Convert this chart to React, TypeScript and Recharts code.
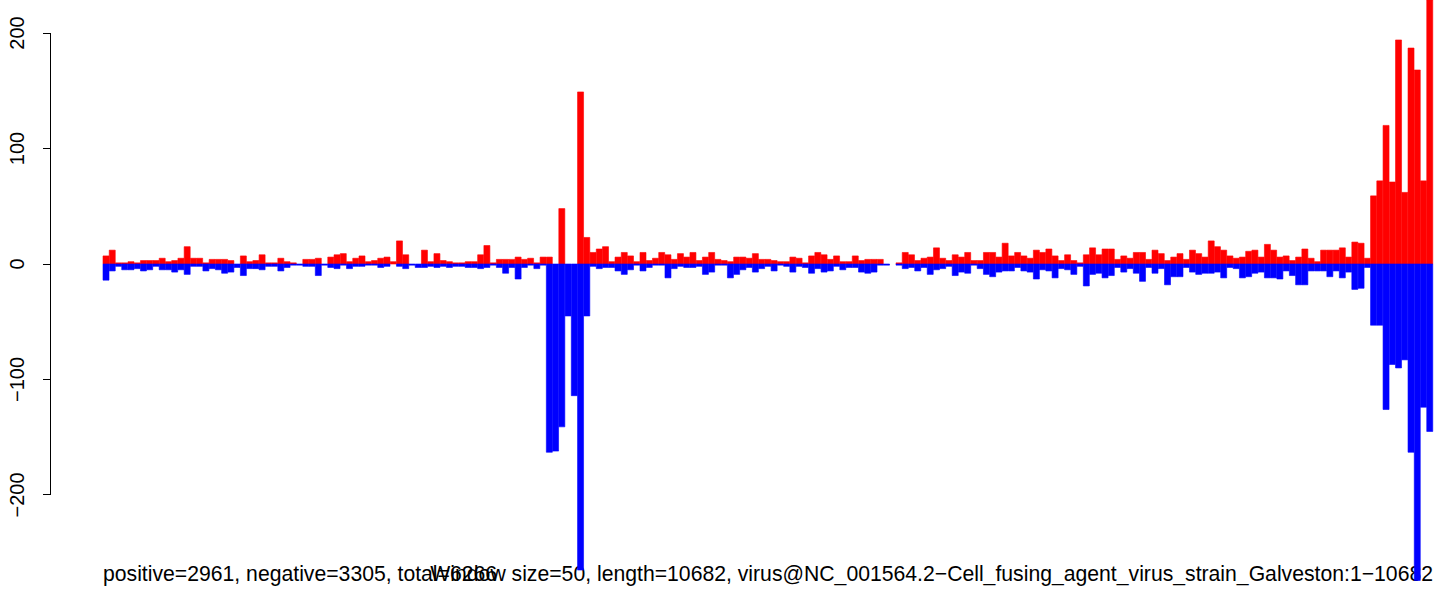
import { Bar, BarChart, XAxis, YAxis } from "recharts";

// reads per 50 nt window, plus strand (red) and minus strand (blue, magnitude)
const plusReads = [
  7, 12, 1, 1, 2, 1, 3, 3, 3, 5, 2, 3, 5, 15, 5, 5, 1, 4, 4, 4, 3, 0, 7, 2, 3, 8,
  1, 1, 5, 2, 1, 0, 4, 4, 5, 0, 6, 8, 9, 2, 5, 7, 2, 3, 5, 6, 2, 20, 8, 0, 0, 12,
  2, 9, 3, 2, 1, 1, 2, 2, 8, 16, 1, 4, 4, 4, 6, 4, 5, 1, 6, 6, 0, 48, 0, 0, 149, 23,
  10, 13, 15, 2, 6, 10, 7, 2, 10, 3, 5, 10, 8, 4, 9, 6, 10, 3, 6, 10, 4, 3, 2, 6, 6, 5,
  9, 4, 4, 3, 2, 2, 6, 5, 1, 7, 10, 8, 4, 7, 2, 2, 7, 3, 4, 4, 4, 0, 0, 1, 10, 8,
  3, 5, 6, 14, 5, 3, 8, 6, 10, 3, 3, 10, 10, 6, 18, 7, 10, 7, 5, 12, 10, 13, 7, 3, 8, 3,
  1, 8, 14, 8, 13, 13, 4, 7, 5, 10, 10, 4, 12, 9, 3, 6, 9, 4, 12, 9, 6, 20, 15, 12, 7, 5,
  6, 11, 12, 6, 17, 12, 6, 7, 3, 6, 13, 5, 2, 12, 12, 12, 14, 6, 19, 18, 5, 59, 72, 120, 71, 194,
  62, 187, 168, 72, 240,
];

const minusReads = [
  14, 6, 2, 5, 5, 4, 6, 5, 2, 5, 5, 7, 5, 9, 2, 2, 6, 4, 5, 8, 7, 3, 10, 4, 4, 5,
  2, 2, 6, 3, 1, 1, 2, 2, 10, 1, 3, 4, 1, 4, 2, 2, 1, 1, 3, 2, 0, 2, 4, 1, 3, 3,
  2, 3, 2, 3, 2, 2, 3, 3, 4, 3, 1, 3, 8, 3, 13, 3, 1, 4, 1, 163, 162, 141, 45, 114, 265, 45,
  2, 4, 3, 3, 6, 9, 5, 1, 6, 3, 1, 1, 12, 4, 2, 3, 3, 2, 9, 7, 1, 1, 12, 9, 5, 3,
  7, 4, 2, 6, 1, 2, 7, 2, 3, 8, 4, 7, 6, 2, 5, 3, 3, 7, 8, 7, 1, 1, 0, 1, 4, 3,
  6, 3, 9, 5, 4, 2, 10, 7, 8, 1, 4, 9, 11, 7, 6, 6, 3, 6, 7, 13, 5, 6, 12, 4, 5, 9,
  2, 19, 9, 8, 12, 10, 3, 7, 4, 8, 15, 3, 8, 4, 18, 11, 11, 3, 7, 9, 8, 8, 7, 12, 3, 4,
  12, 11, 8, 7, 12, 12, 13, 6, 10, 18, 18, 6, 6, 6, 11, 6, 12, 7, 22, 21, 3, 53, 53, 126, 87, 90,
  83, 163, 274, 124, 145,
];

const yTicks = [-200, -100, 0, 100, 200];

const W = 1444;
const H = 592;
const Y_MIN = -284;
const Y_MAX = 228.6;
const FONT = "'Liberation Sans', Arial, Helvetica, sans-serif";

const data = plusReads.map((p, i) => ({
  bin: i + 1,
  plus: p,
  minus: -minusReads[i],
}));

const YTick = (props: any) => {
  const { x, y, payload } = props;
  const v = payload.value as number;
  const step = (100 * H) / (Y_MAX - Y_MIN);
  const label = v < 0 ? `\u2212${-v}` : `${v}`;
  const lx = x - 26;
  return (
    <g>
      <line x1={x - 7} x2={x} y1={y} y2={y} stroke="#000" strokeWidth={1} shapeRendering="crispEdges" />
      {v > yTicks[0] && (
        <line x1={x} x2={x} y1={y} y2={y + step} stroke="#000" strokeWidth={1} shapeRendering="crispEdges" />
      )}
      <text
        x={lx}
        y={y}
        transform={`rotate(-90 ${lx} ${y})`}
        textAnchor="middle"
        fontSize={20}
        fontFamily={FONT}
        fill="#000"
      >
        {label}
      </text>
    </g>
  );
};

const App = () => {
  return (
    <div style={{ position: "absolute", left: 0, top: 0, width: W, height: H, background: "#fff" }}>
      <svg width={W} height={H} style={{ position: "absolute", left: 0, top: 0 }}>
        <text x={103} y={581} fontSize={21.2} fontFamily={FONT} fill="#000">
          positive=2961, negative=3305, total=6266
        </text>
        <text x={1433} y={581} fontSize={21.2} fontFamily={FONT} fill="#000" textAnchor="end">
          Window size=50, length=10682, virus@NC_001564.2−Cell_fusing_agent_virus_strain_Galveston:1−10682
        </text>
      </svg>
      <div style={{ position: "absolute", left: 0, top: 0 }}>
        <BarChart
          width={W}
          height={H}
          data={data}
          margin={{ top: 0, right: 11, bottom: 0, left: 0 }}
          stackOffset="sign"
          barCategoryGap={0}
          barGap={0}
        >
          <XAxis dataKey="bin" hide />
          <YAxis
            type="number"
            domain={[Y_MIN, Y_MAX]}
            allowDataOverflow
            ticks={yTicks}
            interval={0}
            width={103}
            tickSize={0}
            tickMargin={53}
            axisLine={false}
            tickLine={false}
            tick={<YTick />}
          />
          <Bar
            dataKey="plus"
            stackId="s"
            fill="#ff0000"
            stroke="#ff0000"
            strokeWidth={0.6}
            isAnimationActive={false}
          />
          <Bar
            dataKey="minus"
            stackId="s"
            fill="#0000ff"
            stroke="#0000ff"
            strokeWidth={0.6}
            isAnimationActive={false}
          />
        </BarChart>
      </div>
    </div>
  );
};

export default App;
